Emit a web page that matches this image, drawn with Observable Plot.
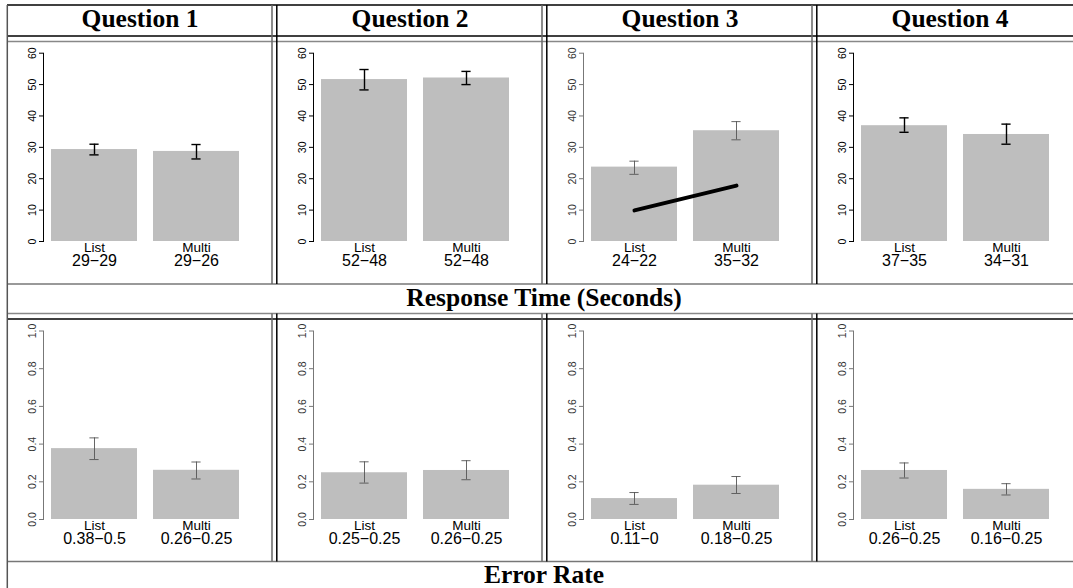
<!DOCTYPE html>
<html><head><meta charset="utf-8">
<script src="https://cdn.jsdelivr.net/npm/d3@7"></script>
<script src="https://cdn.jsdelivr.net/npm/@observablehq/plot@0.6"></script>
<style>
body{margin:0;background:#fff;}
#root{position:relative;width:1073px;height:588px;overflow:hidden;background:#fff;}
#root > svg.overlay{position:absolute;left:0;top:0;}
.panel{position:absolute;width:265px;}
.panel svg{display:block;max-width:none !important;width:265px;}
</style></head><body><div id="root"></div>
<script>
// ---- data ----
const questions = ["Question 1", "Question 2", "Question 3", "Question 4"];
const conditions = ["List", "Multi"];
const rowTitles = ["Response Time (Seconds)", "Error Rate"];

const rtMean = [[29.3, 28.7], [51.6, 52.1], [23.7, 35.3], [36.9, 34.1]];
const rtLo   = [[27.6, 26.3], [48.3, 50.0], [21.4, 32.4], [34.8, 31.0]];
const rtHi   = [[31.0, 30.9], [54.8, 54.2], [25.6, 38.2], [39.4, 37.4]];
const rtLabels = [["29−29", "29−26"], ["52−48", "52−48"], ["24−22", "35−32"], ["37−35", "34−31"]];
const rtTicks = [0, 10, 20, 30, 40, 50, 60];

const errMean = [[0.376, 0.261], [0.248, 0.260], [0.111, 0.182], [0.26, 0.16]];
const errLo   = [[0.318, 0.215], [0.193, 0.211], [0.080, 0.138], [0.22, 0.13]];
const errHi   = [[0.433, 0.305], [0.306, 0.312], [0.143, 0.228], [0.30, 0.19]];
const errLabels = [["0.38−0.5", "0.26−0.25"], ["0.25−0.25", "0.26−0.25"], ["0.11−0", "0.18−0.25"], ["0.26−0.25", "0.16−0.25"]];
const errTicks = [0, 0.2, 0.4, 0.6, 0.8, 1.0];

const q3Trend = [9.9, 17.8];

// ---- layout ----
const root = document.getElementById("root");
const colLeft = [7, 277, 547, 817];
const PW = 265;

function panel(means, lo, hi, labels, yMax, ticks, fmt, strong, trend, H, mt, mb) {
  const rows = conditions.map((c, i) => ({cond: c, mean: means[i], lo: lo[i], hi: hi[i], label: labels[i], trend: trend ? trend[i] : null}));
  const axisColor = strong ? "#000" : "#777";
  const labelColor = strong ? "#000" : "#333";
  const errColor = strong ? "#000" : "#555";
  const errW = strong ? 1.4 : 0.9;
  const capInset = 38.4;
  const marks = [
    Plot.barY(rows, {x: "cond", y: "mean", fill: "#bebebe"}),
    Plot.ruleX(rows, {x: "cond", y1: "lo", y2: "hi", stroke: errColor, strokeWidth: errW}),
    Plot.tickY(rows, {x: "cond", y: "lo", stroke: errColor, strokeWidth: errW, insetLeft: capInset, insetRight: capInset}),
    Plot.tickY(rows, {x: "cond", y: "hi", stroke: errColor, strokeWidth: errW, insetLeft: capInset, insetRight: capInset}),
    Plot.axisY({ticks, tickFormat: fmt, tickSize: 4, tickPadding: 6.5, tickRotate: -90, textAnchor: "middle", lineAnchor: "middle", fontSize: 10.5, stroke: axisColor, color: labelColor, label: null}),
    Plot.frame({anchor: "left", stroke: axisColor}),
    Plot.text(rows, {x: "cond", text: "cond", frameAnchor: "bottom", lineAnchor: "top", dy: 1, fontSize: 13.5, fill: "#000"}),
    Plot.text(rows, {x: "cond", text: "label", frameAnchor: "bottom", lineAnchor: "top", dy: 13, fontSize: 16, fill: "#000"})
  ];
  if (trend) marks.push(Plot.line(rows, {x: "cond", y: "trend", stroke: "#000", strokeWidth: 4, strokeLinecap: "round"}));
  return Plot.plot({
    width: PW, height: H,
    marginLeft: 36, marginRight: 26.2, marginTop: mt, marginBottom: mb,
    x: {domain: conditions, paddingInner: 0.161, paddingOuter: 0.0713, axis: null},
    y: {domain: [0, yMax], axis: null},
    style: {fontFamily: "'Liberation Sans', Arial, Helvetica, sans-serif", background: "none", overflow: "visible"},
    marks
  });
}

// overlay: table rules and titles
const ov = d3.select(root).append("svg").attr("class", "overlay").attr("width", 1073).attr("height", 588);
function hline(y, x1, x2, color, w) { ov.append("line").attr("x1", x1).attr("x2", x2).attr("y1", y).attr("y2", y).attr("stroke", color).attr("stroke-width", w); }
function vline(x, y1, y2, color, w) { ov.append("line").attr("x1", x).attr("x2", x).attr("y1", y1).attr("y2", y2).attr("stroke", color).attr("stroke-width", w); }

hline(5, 7, 1073, "#000", 1.5);
hline(36, 7, 1073, "#000", 1.5);
hline(41.5, 7, 1073, "#888", 1.5);
hline(284, 7, 1073, "#777", 1.5);
hline(313.5, 7, 1073, "#888", 1.5);
hline(319, 7, 1073, "#000", 1.5);
hline(561.5, 7, 1073, "#777", 1.5);
vline(7.3, 5, 588, "#555", 1.5);
[272, 542, 812].forEach(x => {
  vline(x, 5, 284, "#666", 1.5);
  vline(x + 4.8, 5, 284, "#000", 1.5);
  vline(x, 313.5, 561.5, "#666", 1.5);
  vline(x + 4.8, 313.5, 561.5, "#000", 1.5);
});
const serif = "'Liberation Serif', 'Times New Roman', Times, serif";
questions.forEach((q, i) => {
  ov.append("text").attr("x", colLeft[i] + 133).attr("y", 27).attr("text-anchor", "middle")
    .attr("font-family", serif).attr("font-weight", "bold").attr("font-size", 25.5).text(q);
});
ov.append("text").attr("x", 544).attr("y", 306).attr("text-anchor", "middle")
  .attr("font-family", serif).attr("font-weight", "bold").attr("font-size", 25.5).text(rowTitles[0]);
ov.append("text").attr("x", 544).attr("y", 583).attr("text-anchor", "middle")
  .attr("font-family", serif).attr("font-weight", "bold").attr("font-size", 25.5).text(rowTitles[1]);

// panels
questions.forEach((q, i) => {
  const top = document.createElement("div");
  top.className = "panel";
  top.style.left = colLeft[i] + "px"; top.style.top = "41px";
  top.appendChild(panel(rtMean[i], rtLo[i], rtHi[i], rtLabels[i], 60, rtTicks, d3.format("d"), i !== 2, i === 2 ? q3Trend : null, 243, 11.7, 43));
  root.appendChild(top);
  const bot = document.createElement("div");
  bot.className = "panel";
  bot.style.left = colLeft[i] + "px"; bot.style.top = "319px";
  bot.appendChild(panel(errMean[i], errLo[i], errHi[i], errLabels[i], 1, errTicks, d3.format(".1f"), false, null, 242, 11.5, 42));
  root.appendChild(bot);
});
</script>
</body></html>
